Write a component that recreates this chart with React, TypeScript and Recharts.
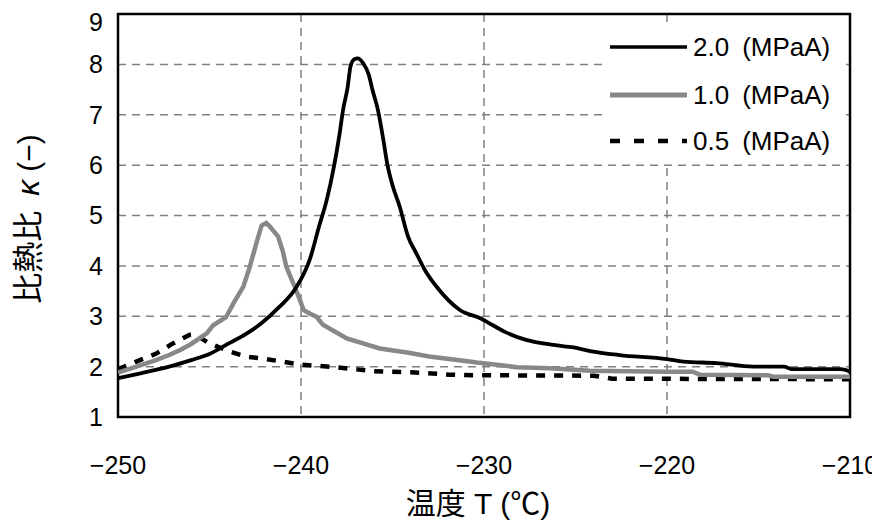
import { LineChart, Line, XAxis, YAxis, CartesianGrid, ReferenceArea, Legend } from "recharts";

// 2.0 MPaA
const temp20 = [-250, -248, -247, -246, -245, -244, -243, -242.2, -241.2, -240.3, -239.5, -239.0, -238.6, -238.2, -237.9, -237.7, -237.45, -237.3, -237.1, -236.9, -236.6, -236.3, -236.1, -235.8, -235.5, -235.3, -235.0, -234.6, -234.15, -233.7, -233.2, -232.6, -231.3, -230.2, -229.8, -228.8, -227.7, -226.2, -225.1, -224.2, -222.6, -220, -219.1, -217.3, -215.3, -213.6, -213.2, -210.5, -210];
const kappa20 = [1.77, 1.93, 2.02, 2.13, 2.25, 2.45, 2.65, 2.85, 3.18, 3.55, 4.15, 4.8, 5.3, 5.97, 6.6, 7.1, 7.55, 7.95, 8.1, 8.12, 8.02, 7.8, 7.5, 7.1, 6.5, 6.05, 5.6, 5.17, 4.58, 4.25, 3.9, 3.59, 3.12, 2.96, 2.88, 2.68, 2.53, 2.43, 2.38, 2.31, 2.23, 2.15, 2.1, 2.07, 2.0, 2.0, 1.95, 1.95, 1.9];

// 1.0 MPaA
const temp10 = [-250, -249, -248, -247.2, -246.6, -246, -245.15, -244.8, -244.1, -243.7, -243.15, -242.8, -242.4, -242.15, -241.9, -241.7, -241.25, -241.0, -240.8, -240.3, -239.85, -239.5, -239.15, -238.8, -237.5, -235.7, -234.2, -233, -230.8, -230.4, -228.2, -226.4, -224.2, -220, -218.6, -218.2, -214.5, -214.2, -210];
const kappa10 = [1.88, 2.0, 2.12, 2.23, 2.33, 2.45, 2.66, 2.82, 2.98, 3.25, 3.59, 3.98, 4.5, 4.8, 4.85, 4.78, 4.58, 4.3, 3.98, 3.55, 3.12, 3.05, 2.99, 2.83, 2.56, 2.36, 2.28, 2.2, 2.1, 2.08, 1.99, 1.97, 1.92, 1.9, 1.9, 1.84, 1.83, 1.8, 1.8];

// 0.5 MPaA
const temp05 = [-250, -249, -247.9, -247, -246.1, -245.8, -245, -243.9, -243, -241.9, -240, -238.2, -236, -233.5, -231.9, -230.6, -224, -223, -210];
const kappa05 = [1.95, 2.1, 2.26, 2.46, 2.63, 2.64, 2.46, 2.3, 2.2, 2.15, 2.04, 1.99, 1.91, 1.88, 1.84, 1.83, 1.82, 1.76, 1.75];

const xTicks = [-250, -240, -230, -220, -210];
const yTicks = [1, 2, 3, 4, 5, 6, 7, 8, 9];
const seriesNames = ["2.0\u2002(MPaA)", "1.0\u2002(MPaA)", "0.5\u2002(MPaA)"];

const s20 = temp20.map((t, i) => ({ t, k: kappa20[i] }));
const s10 = temp10.map((t, i) => ({ t, k: kappa10[i] }));
const s05 = temp05.map((t, i) => ({ t, k: kappa05[i] }));

const FONT = "'Liberation Sans', 'Noto Sans CJK JP', sans-serif";
const GRAY = "#888888";

const legendStyles = [
  { stroke: "#000", width: 3.5, dash: undefined },
  { stroke: GRAY, width: 5, dash: undefined },
  { stroke: "#000", width: 4.5, dash: "10 14" },
];

function LegendBox() {
  const rows = [25, 73, 119];
  return (
    <div style={{ position: "relative", width: 238, height: 140, background: "#fff", fontFamily: FONT, fontSize: 26, color: "#000" }}>
      {seriesNames.map((name, i) => (
        <div key={name} style={{ position: "absolute", left: 0, top: rows[i] - 16, height: 32, display: "flex", alignItems: "center", whiteSpace: "pre" }}>
          <svg width={91} height={32}>
            <line x1={8} x2={85} y1={16} y2={16} stroke={legendStyles[i].stroke} strokeWidth={legendStyles[i].width} strokeDasharray={legendStyles[i].dash} />
          </svg>
          <span>{name}</span>
        </div>
      ))}
    </div>
  );
}

const fmtX = (v: number) => (v < 0 ? "\u2212" + Math.abs(v) : String(v));

export default function App() {
  return (
    <div style={{ width: 872, height: 513 }}>
      <LineChart width={872} height={513} margin={{ top: 6, right: 30, bottom: 0, left: 0 }}>
        <CartesianGrid stroke="#808080" strokeWidth={1.5} strokeDasharray="8 6" />
        <XAxis
          type="number"
          dataKey="t"
          domain={[-250, -210]}
          ticks={xTicks}
          allowDataOverflow
          height={104}
          axisLine={false}
          tickLine={false}
          tickSize={0}
          tickMargin={39}
          tickFormatter={fmtX}
          tick={{ fill: "#000", fontSize: 25, fontFamily: FONT }}
          label={{
            content: (p: any) => (
              <text x={p.viewBox.x + p.viewBox.width / 2 - 6} y={p.viewBox.y + 97} textAnchor="middle" fontSize={30} fontFamily={FONT} fill="#000">
                温度 T (℃)
              </text>
            ),
          }}
        />
        <YAxis
          type="number"
          domain={[1, 9]}
          ticks={yTicks}
          width={110}
          axisLine={false}
          tickLine={false}
          tickSize={0}
          tickMargin={15}
          tick={{ fill: "#000", fontSize: 25, fontFamily: FONT }}
          label={{
            content: () => (
              <text x={0} y={0} transform="translate(20,211) rotate(-90)" textAnchor="middle" dominantBaseline="central" fontSize={31} fontFamily={FONT} fill="#000">
                比熱比
                <tspan dx={15} fontStyle="italic" fontSize={32}>κ</tspan>
                <tspan dx={8} fontSize={30}>(−)</tspan>
              </text>
            ),
          }}
        />
        <Line data={s05} dataKey="k" type="linear" stroke="#000" strokeWidth={4.5} strokeDasharray="9 9" dot={false} isAnimationActive={false} />
        <Line data={s10} dataKey="k" type="linear" stroke={GRAY} strokeWidth={4.5} dot={false} isAnimationActive={false} />
        <Line data={s20} dataKey="k" type="monotone" stroke="#000" strokeWidth={3.8} dot={false} isAnimationActive={false} />
        <ReferenceArea x1={-250} x2={-210} y1={1} y2={9} fill="none" stroke="#000" strokeWidth={2.5} />
        <Legend
          layout="horizontal"
          verticalAlign="middle"
          align="center"
          content={() => <LegendBox />}
          wrapperStyle={{ position: "absolute", left: 594, top: 14, width: 238, height: 140 }}
        />
      </LineChart>
    </div>
  );
}
